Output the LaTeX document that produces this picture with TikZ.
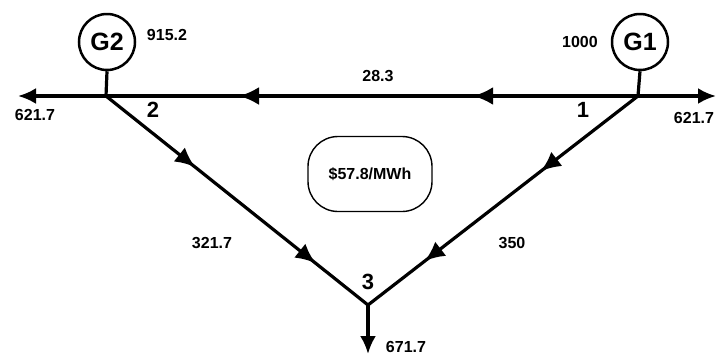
\documentclass[tikz,border=0pt]{standalone}
\usepackage{fontspec}
\setmainfont{Liberation Sans}
\usetikzlibrary{arrows.meta,decorations.markings}
\begin{document}
\begin{tikzpicture}[x=1pt,y=-1pt,
  line/.style={line width=3.2pt},
  endtip/.style={-{Latex[length=18pt,width=16pt]}},
  gen/.style={circle,draw,line width=2.5pt,minimum size=56pt,inner sep=0pt,font=\bfseries\fontsize{25}{25}\selectfont},
  lbl/.style={font=\bfseries\fontsize{16}{16}\selectfont,inner sep=0pt},
  busno/.style={font=\bfseries\fontsize{22}{22}\selectfont,inner sep=0pt},
  midarrows/.style 2 args={postaction={decorate,decoration={markings,
     mark=at position #1 with {\arrow{Latex[length=20pt,width=18pt]}},
     mark=at position #2 with {\arrow{Latex[length=20pt,width=18pt]}}}}}
]
\useasboundingbox (0,0) rectangle (721,357);
% buses
\coordinate (b2) at (106,96);
\coordinate (b1) at (638,96);
\coordinate (b3) at (368,305);
\coordinate (l2) at (18,96);
\coordinate (l1) at (716,96);
\coordinate (l3) at (368,354);
% generators
\node[gen] (g2) at (107,42) {G2};
\node[gen] (g1) at (640,42) {G1};
\draw[line] (g2.south) -- (b2);
\draw[line] (g1.south) -- (b1);
% lines
\draw[line,midarrows={0.31}{0.75}] (b1) -- (b2);
\draw[line,midarrows={0.34}{0.80}] (b2) -- (b3);
\draw[line,midarrows={0.36}{0.79}] (b1) -- (b3);
% loads
\draw[line,endtip] (b2) -- (l2);
\draw[line,endtip] (b1) -- (l1);
\draw[line,endtip] (b3) -- (l3);
% price box
\node[draw,line width=1.4pt,rounded corners=30pt,minimum width=124pt,minimum height=75pt,font=\bfseries\fontsize{16}{16}\selectfont] (price) at (370,174) {\$57.8/MWh};
% labels
\node[lbl] (t915) at (167,35) {915.2};
\node[lbl] (t1000) at (580,42) {1000};
\node[lbl] (t283) at (378,76) {28.3};
\node[lbl] (tl2) at (35,115) {621.7};
\node[lbl] (tl1) at (694,118) {621.7};
\node[lbl] (t3217) at (212,243) {321.7};
\node[lbl] (t350) at (512,243) {350};
\node[lbl] (tl3) at (406,347) {671.7};
\node[busno] (n2) at (153,110) {2};
\node[busno] (n1) at (583,110) {1};
\node[busno] (n3) at (368,282) {3};
\end{tikzpicture}
\end{document}
